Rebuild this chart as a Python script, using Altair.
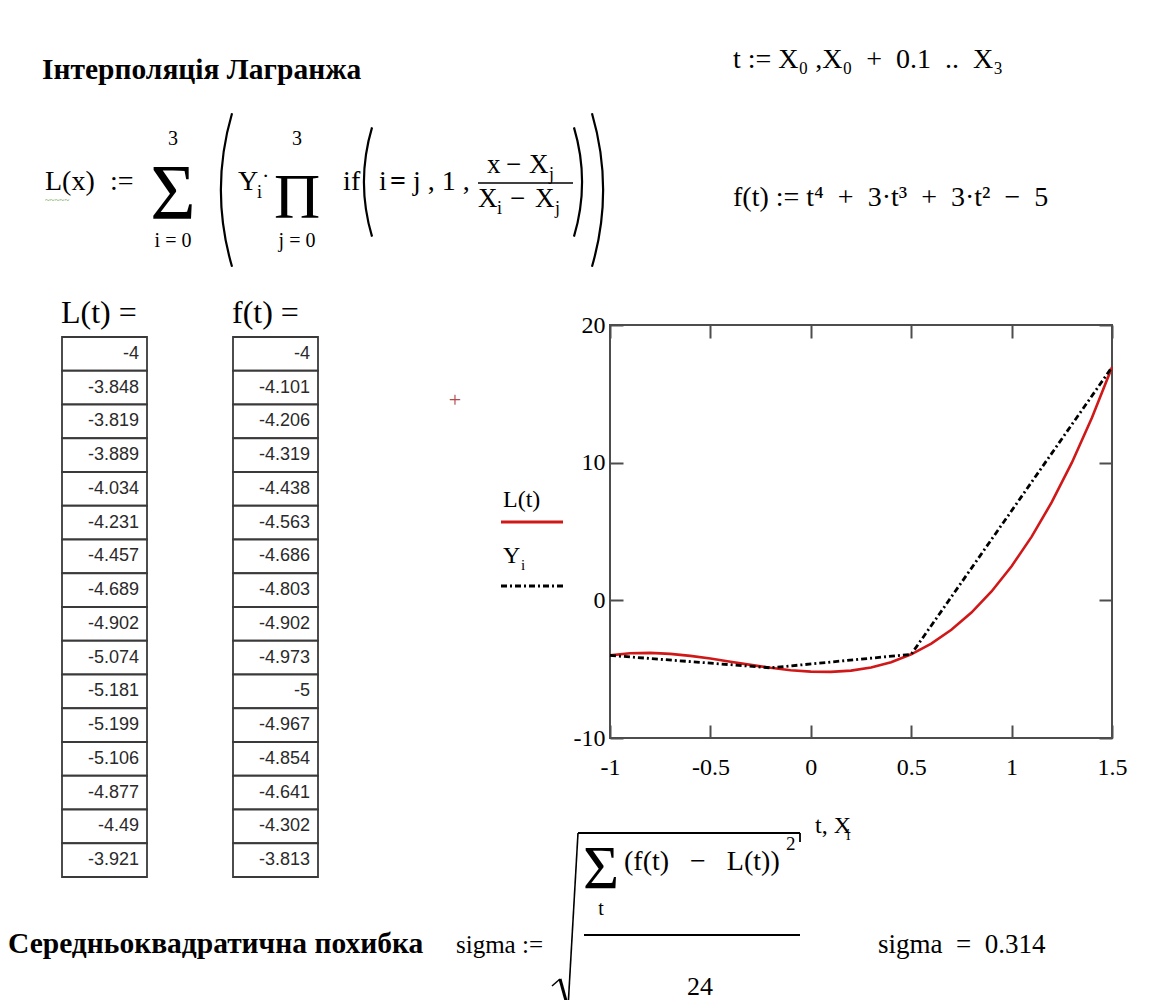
import math
import altair as alt
import pandas as pd

# ---------------- data (read from the worksheet) ----------------
t_vals = [-1.0, -0.9, -0.8, -0.7, -0.6, -0.5, -0.4, -0.3, -0.2, -0.1, 0.0, 0.1, 0.2,
          0.3, 0.4, 0.5, 0.6, 0.7, 0.8, 0.9, 1.0, 1.1, 1.2, 1.3, 1.4, 1.5]
L_vals = [-4, -3.848, -3.819, -3.889, -4.034, -4.231, -4.457, -4.689, -4.902, -5.074,
          -5.181, -5.199, -5.106, -4.877, -4.49, -3.921, -3.146, -2.143, -0.887, 0.645,
          2.476, 4.629, 7.129, 9.998, 13.259, 16.938]
f_table = [-4, -4.101, -4.206, -4.319, -4.438, -4.563, -4.686, -4.803, -4.902, -4.973,
           -5, -4.967, -4.854, -4.641, -4.302, -3.813]
X_nodes = [-1.0, -0.2, 0.5, 1.5]
Y_nodes = [-4, -4.902, -3.921, 16.938]
x_ticks = [-1, -0.5, 0, 0.5, 1, 1.5]
y_ticks = [-10, 0, 10, 20]
n_rows = 16

# ---------------- layout ----------------
OX, OY = 610, 325          # page position of the plot frame
W, H = 502, 413
SERIF = "Liberation Serif, Times New Roman, serif"
SANS = "Liberation Sans, Arial, sans-serif"
RED = "#d01818"
NB = "\u00a0"
one = pd.DataFrame({"k": [0]})


def txt(s, sx, sy, size=28, weight="normal", align="left", color="black",
        font=SERIF, baseline="alphabetic"):
    return alt.Chart(one).mark_text(
        text=s, align=align, baseline=baseline, fontSize=size, fontWeight=weight,
        color=color, font=font, aria=False
    ).encode(x=alt.value(sx - OX), y=alt.value(sy - OY))


def rule(x1, y1, x2, y2, width=2.0, color="black", dash=None):
    kw = dict(color=color, strokeWidth=width, aria=False)
    if dash:
        kw["strokeDash"] = dash
    return alt.Chart(one).mark_rule(**kw).encode(
        x=alt.value(x1 - OX), y=alt.value(y1 - OY),
        x2=alt.value(x2 - OX), y2=alt.value(y2 - OY))


def paren(edge_x, cy, half_h, sag, side, width=2.2):
    R = (half_h ** 2 + sag ** 2) / (2 * sag)
    a = math.asin(half_h / R)
    if side == "left":
        mid, cx = 1.5 * math.pi, edge_x + R
    else:
        mid, cx = 0.5 * math.pi, edge_x - R
    return alt.Chart(one).mark_arc(
        innerRadius=R - width, outerRadius=R, theta=mid - a, theta2=mid + a,
        color="black", aria=False
    ).encode(x=alt.value(cx - OX), y=alt.value(cy - OY))


# ---------------- plot ----------------
line_df = pd.DataFrame({"t": t_vals, "L": L_vals})
node_df = pd.DataFrame({"X": X_nodes, "Y": Y_nodes})
xs = alt.Scale(domain=[-1, 1.5], nice=False, zero=False)
ys = alt.Scale(domain=[-10, 20], nice=False, zero=False)
plain_label = "datum.value < 0 ? '-' + (-datum.value) : '' + datum.value"

common_axis = dict(title=None, domain=False, grid=False, tickSize=13, tickWidth=2,
                   tickColor="#4d4d4d", offset=-13)

red = alt.Chart(line_df).mark_line(color=RED, strokeWidth=2.6).encode(
    x=alt.X("t:Q", scale=xs, axis=alt.Axis(
        orient="bottom", values=x_ticks, labelPadding=17, labelFont=SERIF,
        labelFontSize=24, labelColor="black", labelFlush=False, labelOverlap=False,
        labelExpr=plain_label, **common_axis)),
    y=alt.Y("L:Q", scale=ys, axis=alt.Axis(
        orient="left", values=y_ticks, labelPadding=5, labelFont=SERIF,
        labelFontSize=24, labelColor="black", labelOverlap=False,
        labelExpr=plain_label, **common_axis)),
)

dash = alt.Chart(node_df).mark_line(color="black", strokeWidth=2.8,
                                     strokeDash=[6, 3, 2, 3]).encode(
    x=alt.X("X:Q", scale=xs, axis=alt.Axis(orient="top", values=x_ticks,
                                           labels=False, **common_axis)),
    y=alt.Y("Y:Q", scale=ys, axis=alt.Axis(orient="right", values=y_ticks,
                                           labels=False, **common_axis)),
)

# ---------------- tables ----------------
tab = pd.DataFrame({
    "row": list(range(n_rows)),
    "Llab": [f"{v:g}" for v in L_vals[:n_rows]],
    "flab": [f"{v:g}" for v in f_table],
})
row_scale = alt.Scale(domain=[0, n_rows], range=[337 - OY, 877 - OY], nice=False, zero=False)
base_t = alt.Chart(tab).transform_calculate(r1="datum.row + 1", rc="datum.row + 0.5")


def table(x_left, x_right, field):
    cells = base_t.mark_rect(fill="white", stroke="#3a3a3a", strokeWidth=1.8).encode(
        x=alt.value(x_left - OX), x2=alt.value(x_right - OX),
        y=alt.Y("row:Q", scale=row_scale, axis=None), y2=alt.Y2("r1"))
    labels = base_t.mark_text(align="right", baseline="middle", font=SANS,
                              fontSize=18, color="#2a2a2a").encode(
        x=alt.value(x_right - 8 - OX),
        y=alt.Y("rc:Q", scale=row_scale, axis=None),
        text=alt.Text(f"{field}:N"))
    return [cells, labels]


# ---------------- worksheet text ----------------
texts = [
    txt("Інтерполяція Лагранжа", 42, 79, 29.5, "bold"),
    # L(x) := sum ( Y_i * prod if(i=j, 1, (x - X_j)/(X_i - X_j)) )
    txt("L(x)", 45, 190),
    txt(":=", 110, 190),
    txt("~~~~~", 45, 203, 9, color="#4f9a2f"),
    txt("Σ", 173, 218, 78, align="center"),
    txt("3", 173, 145, 20, align="center"),
    txt("i = 0", 173, 247, 20, align="center"),
    paren(220, 190, 77, 11, "left"),
    txt("Y", 238, 190),
    txt("i", 257, 198, 18),
    txt("·", 262, 183, 22),
    txt("Π", 297, 218, 64, align="center"),
    txt("3", 297, 145, 20, align="center"),
    txt("j = 0", 297, 247, 20, align="center"),
    txt("i", 343, 190),
    txt("f", 351, 190),
    paren(363, 182, 55, 8, "left"),
    txt("i", 379, 190),
    txt("=", 390, 190, 28, "bold"),
    txt("j , 1 ,", 413, 190),
    txt("x", 487, 173, 27),
    txt("−", 506, 173, 27),
    txt("X", 529, 173, 27),
    txt("j", 549, 180, 18),
    rule(478, 183, 573, 183, 1.6),
    txt("X", 478, 207, 27),
    txt("i", 497, 214, 18),
    txt("−", 510, 207, 27),
    txt("X", 535, 207, 27),
    txt("j", 555, 214, 18),
    paren(583, 182, 55, 8, "right"),
    paren(604, 190, 77, 11, "right"),
    # top right
    txt(f"t :={NB}X₀ ,X₀{NB} +{NB} 0.1{NB} ..{NB} X₃", 733, 68),
    txt(f"f(t) := t⁴{NB} +{NB} 3·t³{NB} +{NB} 3·t²{NB} −{NB} 5", 733, 206),
    # table headers
    txt("L(t) =", 61, 323, 32),
    txt("f(t) =", 232, 323, 32),
    # plot extras
    txt("+", 455, 400, 22, color="#b54a4a", align="center", baseline="middle"),
    txt("L(t)", 503, 507, 24),
    rule(501, 522, 563, 522, 3, RED),
    txt("Y", 503, 563, 24),
    txt("i", 521, 570, 15),
    rule(501, 586, 563, 586, 3, "black", [6, 3, 2, 3]),
    txt("t, X", 815, 833, 24),
    txt("i", 846, 840, 16),
    # bottom
    txt("Середньоквадратична похибка", 8, 953, 29.5, "bold"),
    txt("sigma :=", 456, 953, 25),
    rule(552, 986, 560, 979, 1.5),
    rule(560, 979, 568, 1008, 3),
    rule(568, 1008, 578, 833, 1.6),
    rule(578, 833, 800, 833, 1.8),
    rule(800, 833, 800, 842, 1.8),
    txt("Σ", 601, 888, 62, align="center"),
    txt("t", 601, 915, 20, align="center"),
    txt(f"(f(t){NB}{NB} −{NB}{NB} L(t))", 624, 870, 28),
    txt("2", 786, 850, 19),
    rule(584, 935, 800, 935, 2),
    txt("24", 700, 995, 26, align="center"),
    txt(f"sigma{NB} ={NB} 0.314", 878, 953, 27),
]

layers = [red, dash] + table(62, 147, "Llab") + table(233, 318, "flab") + texts

chart = alt.layer(*layers).resolve_scale(
    x="independent", y="independent"
).properties(
    width=W, height=H,
    padding={"left": OX - 8, "top": OY - 8, "right": 1142 - OX - W, "bottom": 1000 - OY - H},
    autosize=alt.AutoSizeParams(type="none"),
).configure_view(stroke="#4d4d4d", strokeWidth=2)

chart.save("out.html", embed_options={"renderer": "svg", "actions": False})
